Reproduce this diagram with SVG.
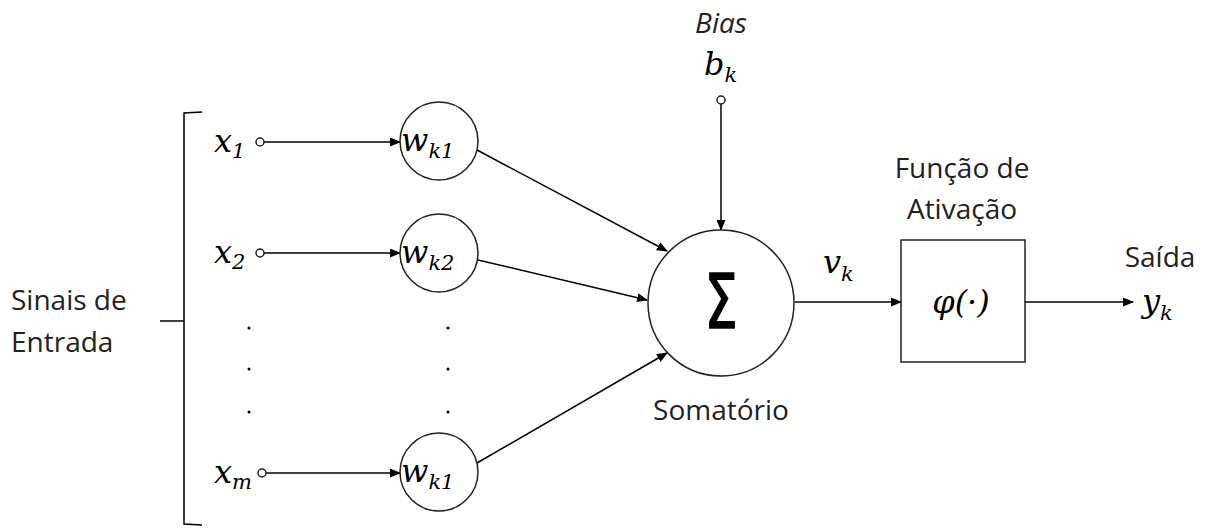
<svg xmlns="http://www.w3.org/2000/svg" width="1210" height="529" viewBox="0 0 1210 529">
<style>
.ln{stroke:#000;stroke-width:1.5;fill:none}
.nd{stroke:#222;stroke-width:1.5;fill:#fff}
.lbl{font-family:"Open Sans","Noto Sans",sans-serif;font-size:28px;fill:#222}
.m{font-family:"DejaVu Serif","Liberation Serif",serif;font-style:italic;font-size:32px;fill:#000}
.s{font-size:21px}
.dot{fill:#000}
</style>
<defs>
<marker id="ar" markerWidth="11" markerHeight="9" refX="10" refY="4.5" orient="auto" markerUnits="userSpaceOnUse">
<path d="M0,0 L11,4.5 L0,9 Z" fill="#000"/>
</marker>
</defs>
<g id="connectors">
<line class="ln" x1="264" y1="142" x2="400" y2="142" marker-end="url(#ar)"/>
<line class="ln" x1="264" y1="253" x2="400" y2="253" marker-end="url(#ar)"/>
<line class="ln" x1="266" y1="473" x2="400" y2="473" marker-end="url(#ar)"/>
<line class="ln" x1="477" y1="150" x2="667" y2="251" marker-end="url(#ar)"/>
<line class="ln" x1="478" y1="260" x2="647" y2="300" marker-end="url(#ar)"/>
<line class="ln" x1="477" y1="463" x2="667" y2="353" marker-end="url(#ar)"/>
<line class="ln" x1="721" y1="104" x2="721" y2="230" marker-end="url(#ar)"/>
<line class="ln" x1="795" y1="302" x2="901" y2="302" marker-end="url(#ar)"/>
<line class="ln" x1="1025" y1="302" x2="1133" y2="302" marker-end="url(#ar)"/>
</g>
<g id="bracket">
<path class="ln" d="M202,112 L184,113 L184,524 L202,525 M160,321 L184,321"/>
<text class="lbl" x="11" y="310">Sinais de</text>
<text class="lbl" x="11" y="352">Entrada</text>
</g>
<g id="x1"><circle class="nd" cx="260" cy="142" r="4"/><text class="m" x="214" y="152">x<tspan class="s" dy="6">1</tspan></text></g>
<g id="x2"><circle class="nd" cx="260" cy="253" r="4"/><text class="m" x="214" y="263">x<tspan class="s" dy="6">2</tspan></text></g>
<g id="xm"><circle class="nd" cx="262" cy="473" r="4"/><text class="m" x="214" y="483">x<tspan class="s" dy="6">m</tspan></text></g>
<g id="dots-left"><circle class="dot" cx="249" cy="328" r="1.5"/><circle class="dot" cx="249" cy="369" r="1.5"/><circle class="dot" cx="249" cy="412" r="1.5"/></g>
<g id="dots-right"><circle class="dot" cx="448" cy="328" r="1.5"/><circle class="dot" cx="448" cy="369" r="1.5"/><circle class="dot" cx="448" cy="412" r="1.5"/></g>
<g id="wk1"><circle class="nd" cx="439" cy="141" r="39"/><text class="m" x="401" y="151">w<tspan class="s" dy="7">k1</tspan></text></g>
<g id="wk2"><circle class="nd" cx="439" cy="253" r="39"/><text class="m" x="401" y="263">w<tspan class="s" dy="7">k2</tspan></text></g>
<g id="wkm"><circle class="nd" cx="439" cy="472" r="39"/><text class="m" x="401" y="482">w<tspan class="s" dy="7">k1</tspan></text></g>
<g id="bias">
<circle class="nd" cx="721" cy="100" r="4"/>
<text class="lbl" x="721" y="33" text-anchor="middle" font-style="italic">Bias</text>
<text class="m" x="704" y="75">b<tspan class="s" dy="7">k</tspan></text>
</g>
<g id="sum">
<circle class="nd" cx="721" cy="303" r="73"/>
<text transform="translate(721,328) scale(0.7,1)" text-anchor="middle" font-family="'DejaVu Sans',sans-serif" font-size="75" fill="#000" stroke="#000" stroke-width="1.6">Σ</text>
<text class="lbl" x="721" y="420" text-anchor="middle">Somatório</text>
</g>
<g id="vk"><text class="m" x="823" y="273">v<tspan class="s" dy="8">k</tspan></text></g>
<g id="activation">
<rect class="nd" x="901" y="240" width="124" height="122"/>
<text class="m" x="961" y="313" text-anchor="middle">φ(·)</text>
<text class="lbl" x="962" y="178" text-anchor="middle">Função de</text>
<text class="lbl" x="962" y="219" text-anchor="middle">Ativação</text>
</g>
<g id="output">
<text class="lbl" x="1160" y="267" text-anchor="middle">Saída</text>
<text class="m" x="1142" y="312">y<tspan class="s" dy="8">k</tspan></text>
</g>
</svg>
